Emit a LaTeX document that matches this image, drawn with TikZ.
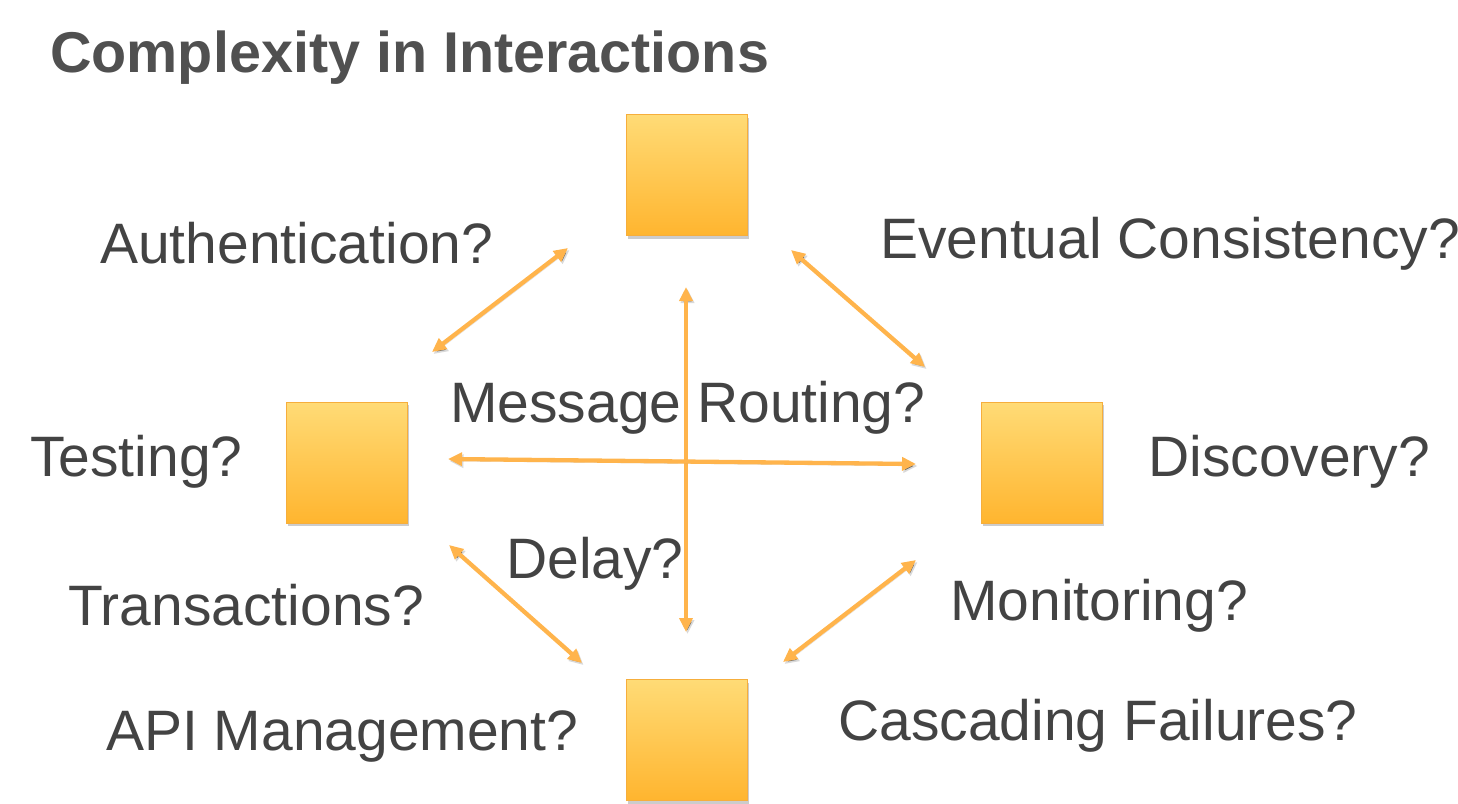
\documentclass[tikz,border=0pt]{standalone}
\usepackage{fontspec}
\setmainfont{Liberation Sans}
\usetikzlibrary{arrows.meta,shadows}
\definecolor{boxtop}{HTML}{FFDB76}
\definecolor{boxbot}{HTML}{FFB52F}
\definecolor{boxline}{HTML}{F6AE3C}
\definecolor{arrowc}{HTML}{FFB44C}
\definecolor{textc}{HTML}{434343}
\definecolor{titlec}{HTML}{505050}
\begin{document}
\begin{tikzpicture}[x=1pt,y=-1pt,
  service/.style={draw=boxline,line width=0.8pt,top color=boxtop,bottom color=boxbot,
    minimum width=121pt,minimum height=121pt,inner sep=0pt,
    drop shadow={shadow xshift=2pt,shadow yshift=-3pt,opacity=.4}},
  question/.style={anchor=base west,inner sep=0pt,text=textc,font=\fontsize{57}{60}\selectfont},
  link/.style={draw=arrowc,line width=4.3pt,{Triangle[length=14pt,width=13pt]}-{Triangle[length=14pt,width=13pt]},
    preaction={draw=black!60,draw opacity=.25,transform canvas={shift={(1.5,2)}}}}]
\useasboundingbox (0,0) rectangle (1458,803);
\node [anchor=base west,inner sep=0pt,text=titlec,font=\fontsize{57.5}{60}\selectfont\bfseries] (title) at (50,72) {Complexity in Interactions};
\node [service] (top) at (686.5,175) {};
\node [service] (left) at (346.5,462.5) {};
\node [service] (right) at (1041.5,462.5) {};
\node [service] (bottom) at (686.5,740) {};
\node [question] (auth) at (100,263) {Authentication?};
\node [question] (consist) at (880,258) {Eventual Consistency?};
\node [question] (routing) at (450,422) {Message Routing?};
\node [question] (testing) at (30,476) {Testing?};
\node [question] (discovery) at (1148,476) {Discovery?};
\node [question] (delay) at (506,578) {Delay?};
\node [question] (trans) at (68,625) {Transactions?};
\node [question] (monitor) at (950,620) {Monitoring?};
\node [question] (cascade) at (838,740) {Cascading Failures?};
\node [question] (api) at (106,750) {API Management?};
\coordinate (tl1) at (432,352);
\coordinate (tl2) at (568,248);
\coordinate (tr1) at (791,250);
\coordinate (tr2) at (925,367);
\coordinate (v1) at (686,287);
\coordinate (v2) at (686,632);
\coordinate (h1) at (448,459);
\coordinate (h2) at (916,464);
\coordinate (bl1) at (449,545);
\coordinate (bl2) at (582,663);
\coordinate (br1) at (916,560);
\coordinate (br2) at (783,662);
\draw [link] (tl1) -- (tl2);
\draw [link] (tr1) -- (tr2);
\draw [link] (v1) -- (v2);
\draw [link] (h1) -- (h2);
\draw [link] (bl1) -- (bl2);
\draw [link] (br1) -- (br2);
\end{tikzpicture}
\end{document}
